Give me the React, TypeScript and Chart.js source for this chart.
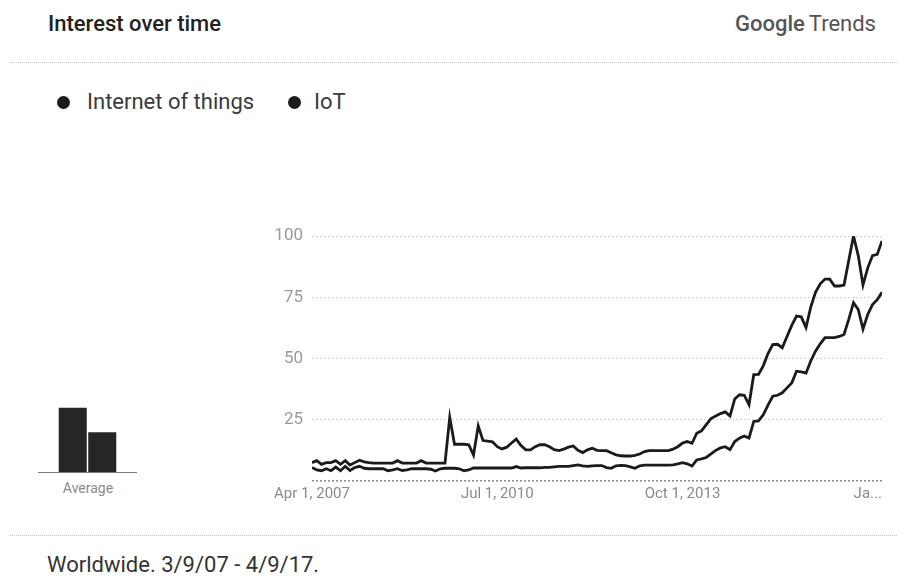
import React, { useEffect, useRef } from "react";
import { Chart, registerables } from "chart.js";

Chart.register(...registerables);

// Monthly interest, Apr 2007 .. Apr 2017 (index 0 .. 120)
const SERIES_NAMES = ["Internet of things", "IoT"];

const INTERNET_OF_THINGS = [
  7.5, 8.3, 6.8, 7.5, 7.5, 8.3, 6.8, 8.3, 6.5, 7.5,
  8.5, 7.8, 7.5, 7.3, 7.3, 7.3, 7.3, 7.3, 8.3, 7.3,
  7.3, 7.3, 7.3, 8.3, 7.3, 7.3, 7.3, 7.3, 7.3, 26,
  15, 15, 15, 14.8, 10.6, 22.5, 16.5, 16.3, 16, 14,
  13.1, 13.8, 15.5, 17.1, 14.5, 12.7, 12.7, 14, 14.8, 14.8,
  14, 12.8, 12.4, 13, 13.8, 14.3, 12.5, 11.6, 12.7, 13.4,
  12.5, 12.4, 12.4, 11.5, 10.7, 10.3, 10.2, 10.2, 10.5, 11,
  12, 12.4, 12.4, 12.4, 12.4, 12.4, 13, 14, 15.5, 16.1,
  15.4, 19.5, 20.5, 23, 25.5, 26.5, 27.5, 28.2, 26.5, 33.5,
  35.2, 35, 31.1, 43.4, 43.5, 47, 52, 55.7, 55.8, 54.4,
  59, 63.5, 67.3, 67, 62.6, 71, 77, 80.5, 82.4, 82.4,
  79.6, 79.6, 80, 90, 100, 92, 80, 87, 92, 92.5,
  98,
];

const IOT = [
  5.5, 4.5, 4.2, 5, 4.2, 5.7, 4.2, 6, 4.3, 5.5,
  6, 5.2, 5, 5, 5, 5, 4.2, 4.5, 5, 4.3,
  4.5, 5, 5, 5, 5, 4.8, 4.1, 5, 5.2, 5.2,
  5.2, 5, 4.2, 4.5, 5.3, 5.3, 5.3, 5.3, 5.3, 5.3,
  5.3, 5.3, 5.3, 5.9, 5.3, 5.4, 5.4, 5.4, 5.4, 5.6,
  5.6, 5.8, 6, 6, 6, 6.3, 6.6, 6.2, 6, 6.2,
  6.3, 6.3, 5.5, 5.2, 6.2, 6.4, 6.3, 5.8, 5.2, 6.2,
  6.5, 6.5, 6.5, 6.5, 6.5, 6.5, 6.6, 7, 7.5, 7,
  6.1, 8.6, 9, 9.6, 11.1, 12.5, 13.5, 14, 12.8, 16.1,
  17.5, 18.4, 17.5, 24.3, 24.5, 27, 31, 34.6, 35, 36,
  38, 40, 44.8, 44.5, 44, 49, 53, 56, 58.5, 58.5,
  58.5, 59, 59.8, 66, 72.8, 70, 62, 68, 72, 74,
  77,
];

const X_TICK_INDEX = [0, 39, 78, 117];
const X_TICK_LABELS = ["Apr 1, 2007", "Jul 1, 2010", "Oct 1, 2013", "Ja..."];
const Y_TICKS = [0, 25, 50, 75, 100];

const LINE_COLOR = "#1b1b1b";
const FONT = "Roboto, 'Noto Sans', Arial, sans-serif";

function mean(a: number[]) {
  return a.reduce((s, v) => s + v, 0) / a.length;
}

export default function App() {
  const mainRef = useRef<HTMLCanvasElement | null>(null);
  const avgRef = useRef<HTMLCanvasElement | null>(null);

  useEffect(() => {
    const charts: Chart[] = [];
    if (mainRef.current) {
      charts.push(
        new Chart(mainRef.current, {
          type: "line",
          data: {
            datasets: [
              {
                label: SERIES_NAMES[0],
                data: INTERNET_OF_THINGS.map((v, i) => ({ x: i, y: v })),
                borderColor: LINE_COLOR,
                borderWidth: 2.8,
                pointRadius: 0,
                tension: 0,
              },
              {
                label: SERIES_NAMES[1],
                data: IOT.map((v, i) => ({ x: i, y: v })),
                borderColor: LINE_COLOR,
                borderWidth: 2.8,
                pointRadius: 0,
                tension: 0,
              },
            ],
          },
          options: {
            animation: false,
            responsive: false,
            maintainAspectRatio: false,
            layout: { padding: { top: 21, right: 13, left: 0, bottom: 0 } },
            plugins: { legend: { display: false }, tooltip: { enabled: false } },
            scales: {
              x: {
                type: "linear",
                min: 0,
                max: INTERNET_OF_THINGS.length - 1,
                grid: { display: false, drawTicks: false },
                border: { display: false },
                afterBuildTicks: (s: any) => {
                  s.ticks = X_TICK_INDEX.map((v) => ({ value: v }));
                },
                afterFit: (s: any) => {
                  s.height = 29;
                },
                ticks: {
                  autoSkip: false,
                  maxRotation: 0,
                  padding: 4,
                  color: "#8a8a8a",
                  font: { family: FONT, size: 15 },
                  callback: (v: any) => {
                    const k = X_TICK_INDEX.indexOf(Number(v));
                    return k >= 0 ? X_TICK_LABELS[k] : "";
                  },
                },
              },
              y: {
                min: 0,
                max: 100,
                afterBuildTicks: (s: any) => {
                  s.ticks = Y_TICKS.map((v) => ({ value: v }));
                },
                afterFit: (s: any) => {
                  s.width = 72;
                },
                grid: {
                  drawTicks: false,
                  color: (ctx: any) =>
                    ctx.tick && ctx.tick.value === 0 ? "#8f8f8f" : "#d2d2d2",
                  lineWidth: (ctx: any) =>
                    ctx.tick && ctx.tick.value === 0 ? 1.6 : 1,
                },
                border: { display: false, dash: [2, 2] },
                ticks: {
                  padding: 9,
                  color: "#9a9a9a",
                  font: { family: FONT, size: 17 },
                  callback: (v: any) => (Number(v) === 0 ? "" : String(v)),
                },
              },
            },
          },
        } as any)
      );
    }
    if (avgRef.current) {
      charts.push(
        new Chart(avgRef.current, {
          type: "bar",
          data: {
            labels: SERIES_NAMES,
            datasets: [
              {
                data: [mean(INTERNET_OF_THINGS), mean(IOT)],
                backgroundColor: "#262626",
                borderWidth: 0,
                barPercentage: 1,
                categoryPercentage: 0.95,
              },
            ],
          },
          options: {
            animation: false,
            responsive: false,
            maintainAspectRatio: false,
            layout: { padding: { left: 20, right: 20, top: 0, bottom: 0 } },
            plugins: { legend: { display: false }, tooltip: { enabled: false } },
            scales: {
              x: { display: false },
              y: { display: false, min: 0, max: 34 },
            },
          },
        } as any)
      );
    }
    return () => charts.forEach((c) => c.destroy());
  }, []);

  const abs = (s: React.CSSProperties): React.CSSProperties => ({
    position: "absolute",
    margin: 0,
    whiteSpace: "nowrap",
    ...s,
  });

  return (
    <div
      style={{
        position: "absolute",
        left: 0,
        top: 0,
        width: 907,
        height: 588,
        background: "#ffffff",
        fontFamily: FONT,
        overflow: "hidden",
      }}
    >
      <div
        style={abs({
          left: 48,
          top: 13,
          fontSize: 22,
          lineHeight: "22px",
          fontWeight: 500,
          color: "#222",
        })}
      >
        Interest over time
      </div>
      <div
        style={abs({
          left: 735,
          top: 13,
          fontSize: 22,
          lineHeight: "22px",
          color: "#555",
        })}
      >
        <span style={{ fontWeight: 500 }}>Google</span>
        <span style={{ marginLeft: 4 }}>Trends</span>
      </div>
      <div
        style={abs({
          left: 10,
          top: 62,
          width: 887,
          height: 0,
          borderTop: "1px dotted #c4c4c4",
        })}
      />
      {/* legend */}
      <div
        style={abs({
          left: 57,
          top: 96,
          width: 13,
          height: 13,
          borderRadius: "50%",
          background: LINE_COLOR,
        })}
      />
      <div
        style={abs({
          left: 87,
          top: 91,
          fontSize: 22,
          lineHeight: "22px",
          color: "#3a3a3a",
        })}
      >
        {SERIES_NAMES[0]}
      </div>
      <div
        style={abs({
          left: 288,
          top: 96,
          width: 13,
          height: 13,
          borderRadius: "50%",
          background: LINE_COLOR,
        })}
      />
      <div
        style={abs({
          left: 314,
          top: 91,
          fontSize: 22,
          lineHeight: "22px",
          color: "#3a3a3a",
        })}
      >
        {SERIES_NAMES[1]}
      </div>

      {/* average mini chart */}
      <canvas
        ref={avgRef}
        width={99}
        height={80}
        style={{ position: "absolute", left: 38, top: 392, width: 99, height: 80 }}
      />
      <div
        style={abs({
          left: 38,
          top: 472,
          width: 99,
          height: 0,
          borderTop: "1.5px solid #7a7a7a",
        })}
      />
      <div
        style={abs({
          left: 38,
          top: 480,
          width: 100,
          textAlign: "center",
          fontSize: 14,
          lineHeight: "16px",
          color: "#8a8a8a",
        })}
      >
        Average
      </div>

      {/* main chart */}
      <canvas
        ref={mainRef}
        width={655}
        height={295}
        style={{ position: "absolute", left: 240, top: 215, width: 655, height: 295 }}
      />

      <div
        style={abs({
          left: 10,
          top: 535,
          width: 887,
          height: 0,
          borderTop: "1px dotted #c4c4c4",
        })}
      />
      <div
        style={abs({
          left: 47,
          top: 554,
          fontSize: 22,
          lineHeight: "22px",
          color: "#333",
        })}
      >
        Worldwide. 3/9/07 - 4/9/17.
      </div>
    </div>
  );
}
